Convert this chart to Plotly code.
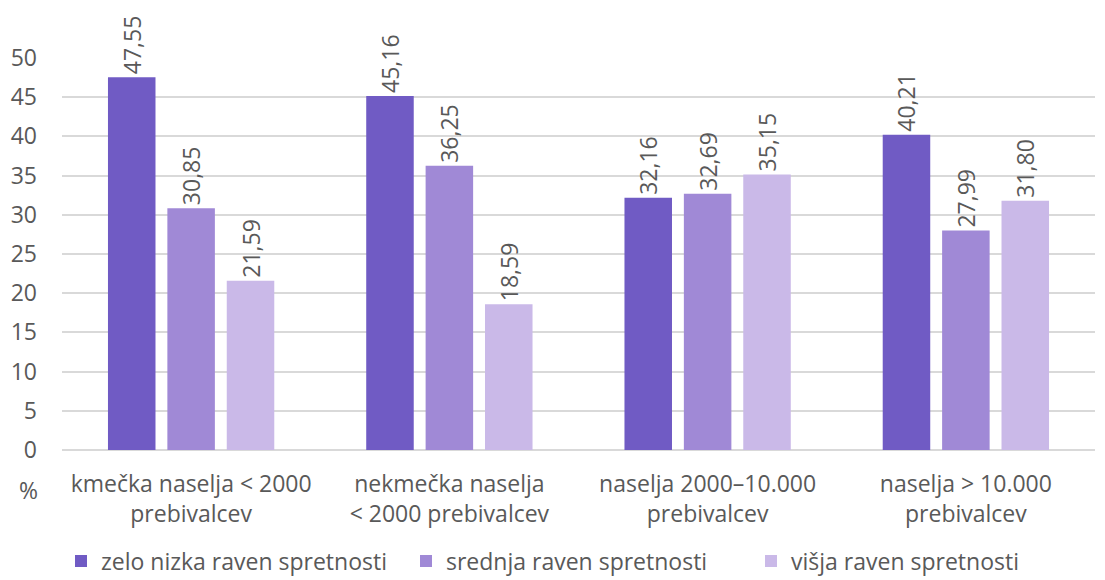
import plotly.graph_objects as go

FONT = "Open Sans"
TEXT_COLOR = "#595959"
GRID_COLOR = "#d9d9d9"
FS = 23

categories = [
    "kmečka naselja < 2000<br>prebivalcev",
    "nekmečka naselja<br>< 2000 prebivalcev",
    "naselja 2000–10.000<br>prebivalcev",
    "naselja > 10.000<br>prebivalcev",
]
series_names = [
    "zelo nizka raven spretnosti",
    "srednja raven spretnosti",
    "višja raven spretnosti",
]
zelo_nizka = [47.55, 45.16, 32.16, 40.21]
srednja = [30.85, 36.25, 32.69, 27.99]
visja = [21.59, 18.59, 35.15, 31.80]
colors = ["#705bc4", "#a089d6", "#cab9e8"]
y_ticks = [0, 5, 10, 15, 20, 25, 30, 35, 40, 45, 50]

# the page puts the figure 8 px in from the top-left corner
W, H = 1097, 572

fig = go.Figure()
for name, vals, col in zip(series_names, [zelo_nizka, srednja, visja], colors):
    fig.add_trace(go.Bar(
        x=categories, y=vals, name=name,
        marker=dict(color=col, line=dict(width=0)),
        texttemplate="%{y:.2f}", textposition="outside", textangle=-90,
        textfont=dict(family=FONT, size=FS, color=TEXT_COLOR),
        constraintext="none", cliponaxis=False,
    ))

fig.update_layout(
    width=W, height=H,
    margin=dict(l=54, r=10, t=50, b=130, autoexpand=False),
    paper_bgcolor="white", plot_bgcolor="white",
    separators=",.",
    barmode="group", bargap=0.31, bargroupgap=0.2,
    font=dict(family=FONT, size=FS, color=TEXT_COLOR),
    showlegend=True,
    legend=dict(orientation="h", x=0.5, xanchor="center", y=-0.283, yanchor="middle",
                font=dict(size=FS, color=TEXT_COLOR), itemwidth=30,
                entrywidth=300, traceorder="normal"),
)
fig.update_xaxes(showgrid=False, showline=False, ticks="",
                 tickfont=dict(size=FS, color=TEXT_COLOR), ticklabelstandoff=18)
fig.update_yaxes(range=[0, 50], tickvals=y_ticks, showgrid=True, gridcolor=GRID_COLOR,
                 gridwidth=1.5, zeroline=True, zerolinecolor=GRID_COLOR, zerolinewidth=1.5,
                 tickfont=dict(size=FS, color=TEXT_COLOR), ticks="", ticklabelstandoff=24)
fig.add_annotation(text="%", xref="paper", yref="paper", x=-0.021, y=-0.102,
                   xanchor="right", yanchor="middle", showarrow=False,
                   font=dict(size=FS, color=TEXT_COLOR))

fig.write_html("out.html")
